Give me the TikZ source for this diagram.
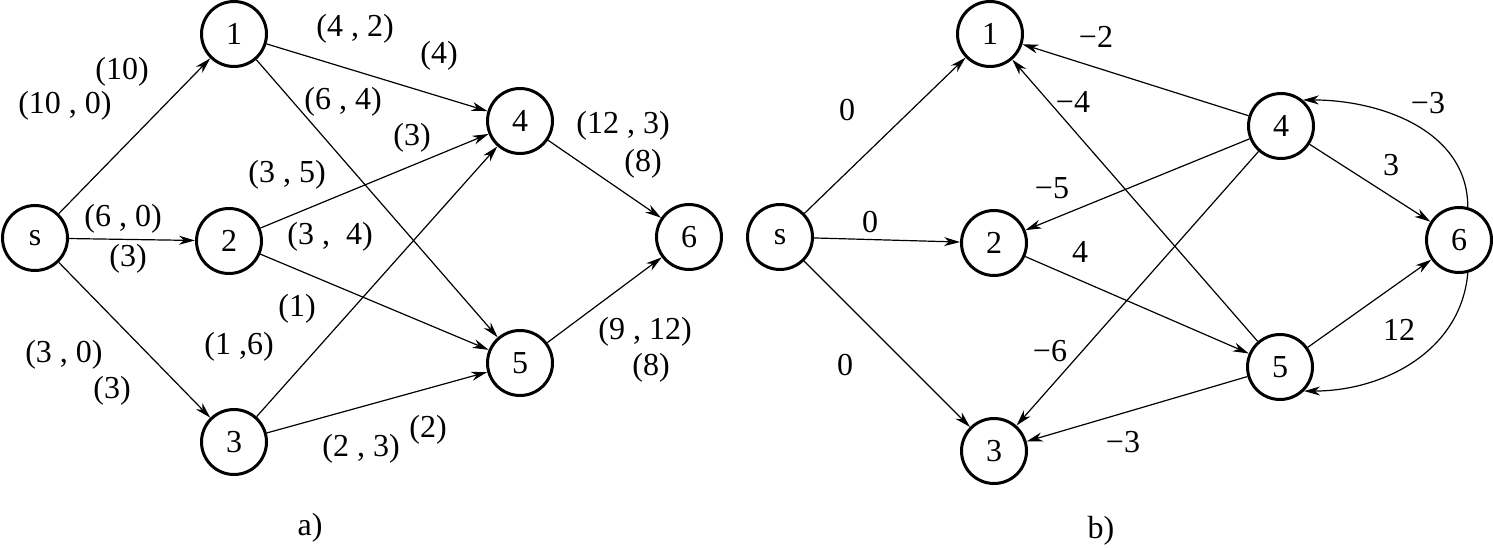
\documentclass[tikz,border=0pt]{standalone}
\usepackage{fontspec}
\setmainfont{Liberation Serif}
\usetikzlibrary{arrows.meta}
\begin{document}
\begin{tikzpicture}[x=1pt,y=-1pt,
 vtx/.style={circle,draw,line width=3pt,minimum size=65pt,inner sep=0pt,font=\fontsize{32}{36}\selectfont},
 lbl/.style={font=\fontsize{32}{36}\selectfont,inner sep=0pt},
 edge/.style={line width=1.2pt,-{Stealth[length=16pt,width=9pt,inset=5pt]}},
 ]
\useasboundingbox (0,0) rectangle (1493,548);
% ---------- a) ----------
\node[vtx] (as) at (35,238) {s};
\node[vtx] (a1) at (234,34) {1};
\node[vtx] (a2) at (229,241) {2};
\node[vtx] (a3) at (234,442) {3};
\node[vtx] (a4) at (520,121) {4};
\node[vtx] (a5) at (520,363) {5};
\node[vtx] (a6) at (689,237) {6};
\draw[edge] (as) -- (a1);
\draw[edge] (as) -- (a2);
\draw[edge] (as) -- (a3);
\draw[edge] (a1) -- (a4);
\draw[edge] (a1) -- (a5);
\draw[edge] (a2) -- (a4);
\draw[edge] (a2) -- (a5);
\draw[edge] (a3) -- (a4);
\draw[edge] (a3) -- (a5);
\draw[edge] (a4) -- (a6);
\draw[edge] (a5) -- (a6);
\node[lbl] (l1) at (122,72) {(10)};
\node[lbl] (l2) at (65,106) {(10 , 0)};
\node[lbl] (l3) at (355,29) {(4 , 2)};
\node[lbl] (l4) at (439,56) {(4)};
\node[lbl] (l5) at (343,102) {(6 , 4)};
\node[lbl] (l6) at (412,138) {(3)};
\node[lbl] (l7) at (287,175) {(3 , 5)};
\node[lbl] (l8) at (623,126) {(12 , 3)};
\node[lbl] (l9) at (643,164) {(8)};
\node[lbl] (l10) at (123,219) {(6 , 0)};
\node[lbl] (l11) at (128,259) {(3)};
\node[lbl] (l12) at (330,237) {(3 ,\ \ 4)};
\node[lbl] (l13) at (297,309) {(1)};
\node[lbl] (l14) at (239,347) {(1 ,6)};
\node[lbl] (l15) at (64,355) {(3 , 0)};
\node[lbl] (l16) at (112,391) {(3)};
\node[lbl] (l17) at (361,449) {(2 , 3)};
\node[lbl] (l18) at (428,430) {(2)};
\node[lbl] (l19) at (645,332) {(9 , 12)};
\node[lbl] (l20) at (651,368) {(8)};
\node[lbl] (ca) at (310,528) {a)};
% ---------- b) ----------
\node[vtx] (bs) at (780,237) {s};
\node[vtx] (b1) at (990,34) {1};
\node[vtx] (b2) at (994,243) {2};
\node[vtx] (b3) at (994,451) {3};
\node[vtx] (b4) at (1281,126) {4};
\node[vtx] (b5) at (1280,367) {5};
\node[vtx] (b6) at (1459,240) {6};
\draw[edge] (bs) -- (b1);
\draw[edge] (bs) -- (b2);
\draw[edge] (bs) -- (b3);
\draw[edge] (b4) -- (b1);
\draw[edge] (b5) -- (b1);
\draw[edge] (b4) -- (b2);
\draw[edge] (b2) -- (b5);
\draw[edge] (b4) -- (b3);
\draw[edge] (b5) -- (b3);
\draw[edge] (b4) -- (b6);
\draw[edge] (b5) -- (b6);
\draw[edge] (b6.75) to[out=90,in=0] (b4.50);
\draw[edge] (b6.-75) to[out=-95,in=0] (b5.-45);
\node[lbl] (m1) at (847,110) {0};
\node[lbl] (m2) at (870,222) {0};
\node[lbl] (m3) at (845,365) {0};
\node[lbl] (m4) at (1096,37) {−2};
\node[lbl] (m5) at (1073,102) {−4};
\node[lbl] (m6) at (1052,188) {−5};
\node[lbl] (m7) at (1080,252) {4};
\node[lbl] (m8) at (1050,351) {−6};
\node[lbl] (m9) at (1123,442) {−3};
\node[lbl] (m10) at (1391,165) {3};
\node[lbl] (m11) at (1399,330) {12};
\node[lbl] (m12) at (1428,103) {−3};
\node[lbl] (cb) at (1101,531) {b)};
\end{tikzpicture}
\end{document}
